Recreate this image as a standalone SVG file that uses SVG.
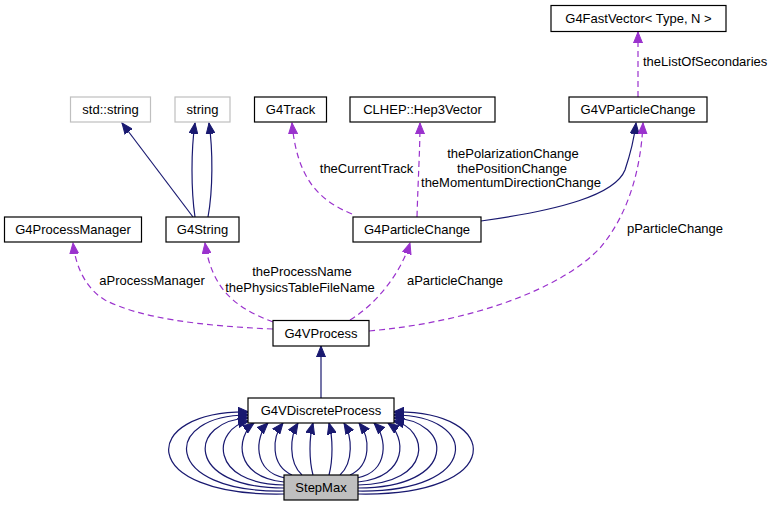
<svg xmlns="http://www.w3.org/2000/svg" width="773" height="507" viewBox="0 0 773 507">
<style>
text{font-family:"Liberation Sans",Arial,sans-serif;font-size:13px;fill:#000;text-anchor:middle}
.n{fill:#fff;stroke:#000;stroke-width:1.2}
.g{fill:#fff;stroke:#bfbfbf;stroke-width:1.2}
.s{fill:#bfbfbf;stroke:#000;stroke-width:1.2}
.inh{fill:none;stroke:#191970;stroke-width:1.2;marker-end:url(#an)}
.use{fill:none;stroke:#9a32cd;stroke-width:1.2;stroke-dasharray:6,4;marker-end:url(#ap)}
.lbl{text-anchor:start}
</style>
<defs>
<marker id="an" markerUnits="userSpaceOnUse" markerWidth="12" markerHeight="10" refX="11" refY="4.5" orient="auto" viewBox="0 0 12 9">
<path d="M0,0 L11,4.5 L0,9 z" fill="#191970" stroke="#191970" stroke-width="1"/>
</marker>
<marker id="ap" markerUnits="userSpaceOnUse" markerWidth="12" markerHeight="10" refX="11" refY="4.5" orient="auto" viewBox="0 0 12 9">
<path d="M0,0 L11,4.5 L0,9 z" fill="#9a32cd" stroke="#9a32cd" stroke-width="1"/>
</marker>
</defs>
<g id="connectors">
<path class="inh" d="M193,217 L122,123"/>
<path class="inh" d="M195,217 C191,190 191,150 195,123"/>
<path class="inh" d="M208,217 C213,190 213,150 209,123"/>
<path class="use" d="M352,214 C318,200 297,178 292,123"/>
<path class="use" d="M417,217 C418,180 420,150 420,123"/>
<path class="inh" d="M481,221 C560,210 615,195 625,170 C630,155 634,140 636,123"/>
<path class="use" d="M638,97 L638,32"/>
<path class="use" d="M369,331 C470,322 560,290 600,248 C628,215 641,170 643,123"/>
<path class="use" d="M350,320 C375,305 400,275 410,243"/>
<path class="use" d="M273,322 C236,308 212,290 205,243"/>
<path class="use" d="M273,329 C200,326 140,318 105,300 C88,290 76,270 73,243"/>
<path class="inh" d="M321,398 L321,346"/>
<!-- StepMax to G4VDiscreteProcess, left side -->
<path class="inh" d="M313,475 C309,460 309,438 313,423"/>
<path class="inh" d="M302,475 C288,462 290,436 298,423"/>
<path class="inh" d="M292,475 C270,465 272,437 283,423"/>
<path class="inh" d="M285,478 C252,472 255,436 268,423"/>
<path class="inh" d="M284,482 C233,477 236,436 254,423"/>
<path class="inh" d="M284,485 C208,484 212,428 249,421"/>
<path class="inh" d="M284,488 C183,488 188,420 249,418"/>
<path class="inh" d="M284,491 C159,493 162,414 249,415"/>
<path class="inh" d="M284,494 C135,497 138,410 249,412"/>
<!-- right side -->
<path class="inh" d="M329,475 C333,460 333,438 329,423"/>
<path class="inh" d="M340,475 C354,462 352,436 344,423"/>
<path class="inh" d="M350,475 C372,465 370,437 359,423"/>
<path class="inh" d="M357,478 C390,472 387,436 374,423"/>
<path class="inh" d="M358,482 C409,477 406,436 388,423"/>
<path class="inh" d="M358,485 C434,484 430,428 393,421"/>
<path class="inh" d="M358,488 C459,488 454,420 393,418"/>
<path class="inh" d="M358,491 C483,493 480,414 393,415"/>
<path class="inh" d="M358,494 C507,497 504,410 393,412"/>
</g>
<g id="labels">
<text x="366.5" y="172.5">theCurrentTrack</text>
<text x="513" y="157.5">thePolarizationChange</text>
<text x="512" y="172.5">thePositionChange</text>
<text x="511" y="187">theMomentumDirectionChange</text>
<text class="lbl" x="643" y="66">theListOfSecondaries</text>
<text x="675" y="233">pParticleChange</text>
<text x="455" y="285">aParticleChange</text>
<text x="302" y="276">theProcessName</text>
<text x="300" y="292">thePhysicsTableFileName</text>
<text x="152" y="285">aProcessManager</text>
</g>
<g id="G4FastVector"><rect class="n" x="551" y="5.5" width="175" height="26"/><text x="638.5" y="23">G4FastVector&lt; Type, N &gt;</text></g>
<g id="std_string"><rect class="g" x="70.5" y="97" width="80" height="25"/><text x="110.5" y="114">std::string</text></g>
<g id="string"><rect class="g" x="175" y="97" width="55" height="25"/><text x="202.5" y="114">string</text></g>
<g id="G4Track"><rect class="n" x="254.5" y="97" width="72" height="25"/><text x="290.5" y="114">G4Track</text></g>
<g id="CLHEP_Hep3Vector"><rect class="n" x="350" y="97" width="145" height="25"/><text x="422.5" y="114">CLHEP::Hep3Vector</text></g>
<g id="G4VParticleChange"><rect class="n" x="569" y="97" width="138" height="25"/><text x="638" y="114">G4VParticleChange</text></g>
<g id="G4ProcessManager"><rect class="n" x="4.5" y="217" width="137" height="25"/><text x="73" y="234">G4ProcessManager</text></g>
<g id="G4String"><rect class="n" x="166" y="217" width="73" height="25"/><text x="202.5" y="234">G4String</text></g>
<g id="G4ParticleChange"><rect class="n" x="353" y="217" width="128" height="25"/><text x="417" y="234">G4ParticleChange</text></g>
<g id="G4VProcess"><rect class="n" x="273" y="320.5" width="96" height="25.5"/><text x="321" y="337.5">G4VProcess</text></g>
<g id="G4VDiscreteProcess"><rect class="n" x="248" y="398" width="146" height="25"/><text x="321" y="415">G4VDiscreteProcess</text></g>
<g id="StepMax"><rect class="s" x="284" y="475" width="74" height="25"/><text x="321" y="492">StepMax</text></g>
</svg>
